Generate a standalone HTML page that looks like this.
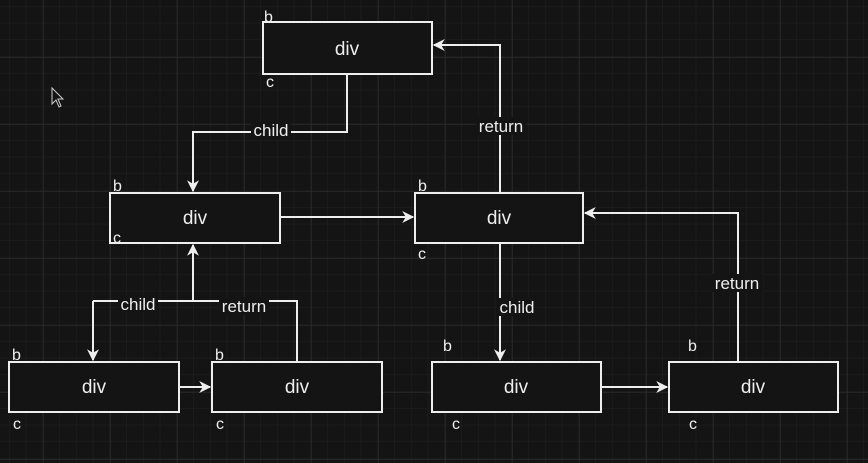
<!DOCTYPE html>
<html><head><style>
html,body{margin:0;padding:0;background:#141414;}
svg{display:block;}
text{font-family:"Liberation Sans",sans-serif;fill:#eee;}
</style></head><body>
<svg width="868" height="463" viewBox="0 0 868 463" xmlns="http://www.w3.org/2000/svg">
<defs>
<pattern id="mi" width="16.75" height="16.75" patternUnits="userSpaceOnUse" x="9.5" y="6.5">
<path d="M16.75 0V16.75H0" fill="none" stroke="#212121" stroke-width="1"/></pattern>
<pattern id="ma" width="67" height="67" patternUnits="userSpaceOnUse" x="43" y="57">
<path d="M0 0V67M0 0H67" fill="none" stroke="#2e2e2e" stroke-width="1.2"/></pattern>
<marker id="ar" viewBox="0 0 10 10" refX="9" refY="5" markerWidth="12" markerHeight="12" orient="auto" markerUnits="userSpaceOnUse">
<path d="M0 0L10 5L0 10L3 5Z" fill="#eee"/></marker>
</defs>
<rect width="868" height="463" fill="#141414"/>
<rect width="868" height="463" fill="url(#mi)"/>
<rect width="868" height="463" fill="url(#ma)"/>
<g fill="#141414" stroke="#eee" stroke-width="2">
<rect x="263" y="22" width="169" height="52"/>
<rect x="110" y="193" width="170" height="50"/>
<rect x="415" y="193" width="168" height="50"/>
<rect x="9" y="362" width="170" height="50"/>
<rect x="212" y="362" width="170" height="50"/>
<rect x="432" y="362" width="169" height="50"/>
<rect x="669" y="362" width="169" height="50"/>
</g>
<g fill="none" stroke="#eee" stroke-width="2">
<path d="M347 74V132H193V191" marker-end="url(#ar)"/>
<path d="M280 217H413" marker-end="url(#ar)"/>
<path d="M500 193V45H434" marker-end="url(#ar)"/>
<path d="M500 243V360" marker-end="url(#ar)"/>
<path d="M601 387H667" marker-end="url(#ar)"/>
<path d="M738 362V213H585" marker-end="url(#ar)"/>
<path d="M193 301V245" marker-end="url(#ar)"/>
<path d="M93 301H297V362"/>
<path d="M93 301V360" marker-end="url(#ar)"/>
<path d="M179 387H210" marker-end="url(#ar)"/>
</g>
<g fill="#141414">
<rect x="251" y="122" width="40" height="18"/>
<rect x="476" y="117" width="50" height="18"/>
<rect x="497" y="298" width="40" height="18"/>
<rect x="711" y="274" width="52" height="18"/>
<rect x="118" y="295" width="40" height="18"/>
<rect x="219" y="297" width="50" height="18"/>
</g>
<g font-size="17" text-anchor="middle">
<text x="271" y="136">child</text>
<text x="501" y="132">return</text>
<text x="517" y="313">child</text>
<text x="737" y="289">return</text>
<text x="138" y="310">child</text>
<text x="244" y="312">return</text>
</g>
<g font-size="19" text-anchor="middle">
<text x="347" y="55">div</text>
<text x="195" y="224">div</text>
<text x="499" y="224">div</text>
<text x="94" y="393">div</text>
<text x="297" y="393">div</text>
<text x="516" y="393">div</text>
<text x="753" y="393">div</text>
</g>
<g font-size="16">
<text x="264" y="22">b</text><text x="266" y="87">c</text>
<text x="113" y="191">b</text><text x="113" y="243">c</text>
<text x="418" y="191">b</text><text x="418" y="259">c</text>
<text x="12" y="360">b</text><text x="13" y="429">c</text>
<text x="215" y="360">b</text><text x="216" y="429">c</text>
<text x="443" y="351">b</text><text x="452" y="429">c</text>
<text x="688" y="351">b</text><text x="689" y="429">c</text>
</g>
<path d="M52 88L52 104L56 100L59 107L61 106L58 99L63 99Z" fill="#141414" stroke="#ccc" stroke-width="1"/>
</svg>
</body></html>
